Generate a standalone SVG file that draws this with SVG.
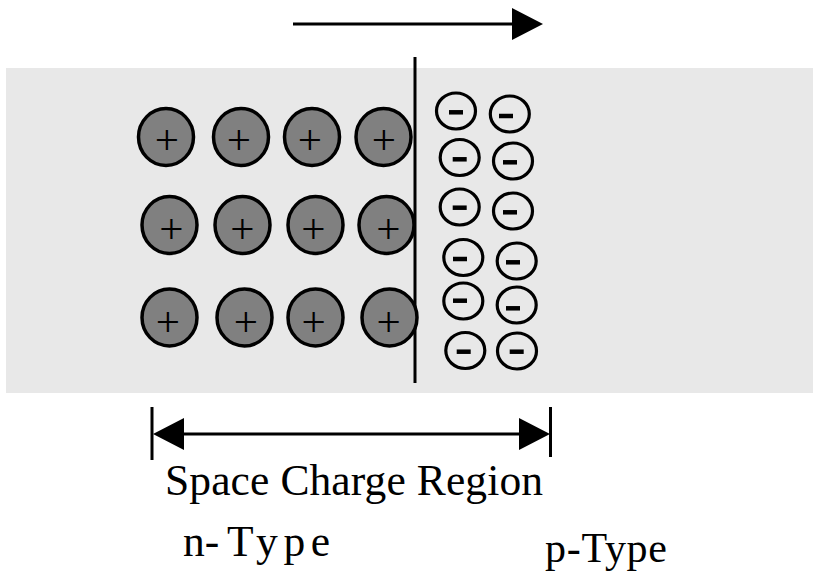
<svg xmlns="http://www.w3.org/2000/svg" width="813" height="572" viewBox="0 0 813 572">
  <style>
    .donor { fill: #808080; stroke: #000; stroke-width: 3.5; }
    .acceptor { fill: none; stroke: #000; stroke-width: 3.2; }
    .plus { font-family: "Liberation Serif", "Times New Roman", serif; font-size: 43px; fill: #000; text-anchor: middle; }
    .minus { stroke: #000; stroke-width: 4.5; }
    .label { font-family: "Liberation Serif", "Times New Roman", serif; fill: #000; }
    .wire { stroke: #000; stroke-width: 3; fill: none; }
  </style>
  <defs>
    <marker id="head" markerUnits="userSpaceOnUse" markerWidth="31" markerHeight="32" refX="2" refY="16" orient="auto-start-reverse" viewBox="0 0 31 32">
      <path d="M0,0 L31,16 L0,32 Z" fill="#000"/>
    </marker>
    <!-- negative charge bar, centred on the origin -->
    <line id="bar" class="minus" x1="-7" y1="0" x2="7" y2="0"/>
  </defs>

  <rect width="813" height="572" fill="#fff"/>

  <!-- semiconductor body -->
  <rect id="crystal" x="6" y="68" width="807" height="325" fill="#E8E8E8"/>

  <!-- connectors: current direction, junction line, depletion width -->
  <g id="connectors">
    <line class="wire" x1="293" y1="24" x2="514" y2="24" marker-end="url(#head)"/>
    <line class="wire" x1="415" y1="57" x2="415" y2="383"/>
    <line class="wire" x1="152" y1="407" x2="152" y2="460"/>
    <line class="wire" x1="550.5" y1="407" x2="550.5" y2="457"/>
    <line class="wire" x1="182" y1="434" x2="521" y2="434" marker-start="url(#head)" marker-end="url(#head)"/>
  </g>

  <!-- ionized donors (n side) -->
  <g id="donors">
    <g id="donor-1-1"><ellipse class="donor" cx="166" cy="137" rx="27.5" ry="28.5"/><text class="plus" x="167" y="154">+</text></g>
    <g id="donor-1-2"><ellipse class="donor" cx="241" cy="137" rx="27.5" ry="28.5"/><text class="plus" x="239" y="154">+</text></g>
    <g id="donor-1-3"><ellipse class="donor" cx="312" cy="137" rx="27.5" ry="28.5"/><text class="plus" x="310" y="154">+</text></g>
    <g id="donor-1-4"><ellipse class="donor" cx="383.5" cy="137" rx="27.5" ry="28.5"/><text class="plus" x="384" y="154">+</text></g>

    <g id="donor-2-1"><ellipse class="donor" cx="169.5" cy="225" rx="27.5" ry="28.5"/><text class="plus" x="171.5" y="242.5">+</text></g>
    <g id="donor-2-2"><ellipse class="donor" cx="242.5" cy="225" rx="27.5" ry="28.5"/><text class="plus" x="242.5" y="242.5">+</text></g>
    <g id="donor-2-3"><ellipse class="donor" cx="315.5" cy="225" rx="27.5" ry="28.5"/><text class="plus" x="313.5" y="242.5">+</text></g>
    <g id="donor-2-4"><ellipse class="donor" cx="386.5" cy="225" rx="27.5" ry="28.5"/><text class="plus" x="388.5" y="242.5">+</text></g>

    <g id="donor-3-1"><ellipse class="donor" cx="169.5" cy="317.5" rx="27.5" ry="28.5"/><text class="plus" x="168" y="336">+</text></g>
    <g id="donor-3-2"><ellipse class="donor" cx="244.5" cy="317.5" rx="27.5" ry="28.5"/><text class="plus" x="246" y="336">+</text></g>
    <g id="donor-3-3"><ellipse class="donor" cx="315.5" cy="317.5" rx="27.5" ry="28.5"/><text class="plus" x="313.7" y="336">+</text></g>
    <g id="donor-3-4"><ellipse class="donor" cx="389.5" cy="317.5" rx="27.5" ry="28.5"/><text class="plus" x="388.7" y="336">+</text></g>
  </g>

  <!-- ionized acceptors (p side) -->
  <g id="acceptors">
    <g id="acceptor-1-1"><ellipse class="acceptor" cx="456" cy="111" rx="19.5" ry="18"/><use href="#bar" x="456" y="112.3"/></g>
    <g id="acceptor-2-1"><ellipse class="acceptor" cx="459.7" cy="157.5" rx="19.5" ry="18"/><use href="#bar" x="459.7" y="159.3"/></g>
    <g id="acceptor-3-1"><ellipse class="acceptor" cx="459.7" cy="207" rx="19.5" ry="18"/><use href="#bar" x="459.7" y="207.7"/></g>
    <g id="acceptor-4-1"><ellipse class="acceptor" cx="463.3" cy="257.5" rx="19.5" ry="18"/><use href="#bar" x="460" y="259"/></g>
    <g id="acceptor-5-1"><ellipse class="acceptor" cx="463.3" cy="301" rx="19.5" ry="18"/><use href="#bar" x="460" y="300.7"/></g>
    <g id="acceptor-6-1"><ellipse class="acceptor" cx="465.3" cy="350.5" rx="19.5" ry="18"/><use href="#bar" x="463.7" y="351.7"/></g>

    <g id="acceptor-1-2"><ellipse class="acceptor" cx="509.8" cy="114" rx="19.5" ry="18"/><use href="#bar" x="506" y="116"/></g>
    <g id="acceptor-2-2"><ellipse class="acceptor" cx="513" cy="161" rx="19.5" ry="18"/><use href="#bar" x="510" y="162.3"/></g>
    <g id="acceptor-3-2"><ellipse class="acceptor" cx="513" cy="211" rx="19.5" ry="18"/><use href="#bar" x="510" y="212.3"/></g>
    <g id="acceptor-4-2"><ellipse class="acceptor" cx="516.7" cy="261" rx="19.5" ry="18"/><use href="#bar" x="513" y="262.3"/></g>
    <g id="acceptor-5-2"><ellipse class="acceptor" cx="516.7" cy="305" rx="19.5" ry="18"/><use href="#bar" x="513" y="308.3"/></g>
    <g id="acceptor-6-2"><ellipse class="acceptor" cx="517" cy="351" rx="19.5" ry="18"/><use href="#bar" x="516.7" y="351.7"/></g>
  </g>

  <!-- labels -->
  <g id="label-region"><text class="label" x="165" y="495" font-size="43.5" textLength="378" lengthAdjust="spacing">Space Charge Region</text></g>
  <g id="label-n"><text class="label" x="183" y="556" font-size="43.5">n-<tspan x="227" textLength="103" lengthAdjust="spacing">Type</tspan></text></g>
  <g id="label-p"><text class="label" x="545" y="562" font-size="42" textLength="122" lengthAdjust="spacing">p-Type</text></g>
</svg>
